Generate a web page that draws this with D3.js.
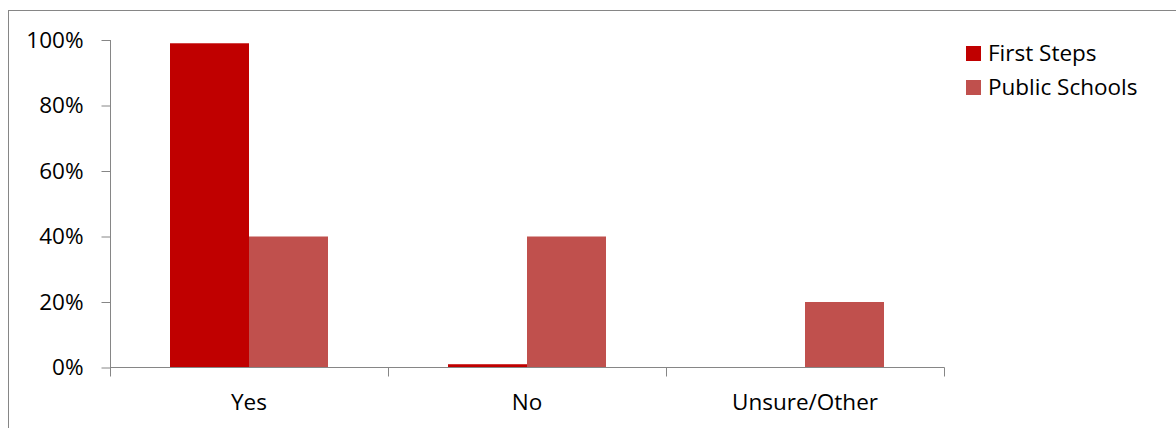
<!DOCTYPE html>
<html><head><meta charset="utf-8">
<script src="https://cdn.jsdelivr.net/npm/d3@7/dist/d3.min.js"></script>
<style>body{margin:0;background:#fff}svg{display:block}</style>
</head><body>
<script>
const categories = ["Yes", "No", "Unsure/Other"];
const seriesNames = ["First Steps", "Public Schools"];
const firstSteps = [0.99, 0.01, 0];
const publicSchools = [0.40, 0.40, 0.20];
const yTicks = [0, 0.2, 0.4, 0.6, 0.8, 1.0];
const colors = ["#C00000", "#C0504D"];

const W = 1176, H = 428;
const svg = d3.select("body").append("svg").attr("width", W).attr("height", H);
const font = "'Open Sans', sans-serif";
const fs = 22.5;

svg.append("rect").attr("x", 8.5).attr("y", 10.5).attr("width", 1200).attr("height", 500)
  .attr("fill", "none").attr("stroke", "#868686").attr("stroke-width", 1);

const x0 = d3.scaleBand().domain(categories).range([110, 944]).paddingInner(0).paddingOuter(0);
const y = d3.scaleLinear().domain([0, 1]).range([367.5, 40]);
const x1 = d3.scaleBand().domain(seriesNames).range([0, x0.bandwidth()]).paddingInner(0).paddingOuter(60 / 79);

const data = categories.map((c, i) => ({cat: c, vals: [firstSteps[i], publicSchools[i]]}));

const g = svg.append("g");
data.forEach(d => {
  d.vals.forEach((v, j) => {
    const x = x0(d.cat) + x1(seriesNames[j]);
    g.append("rect").attr("x", x).attr("y", y(v)).attr("width", x1.bandwidth())
      .attr("height", y(0) - y(v)).attr("fill", colors[j]);
  });
});

// y axis
const yAxis = d3.axisLeft(y).tickValues(yTicks).tickFormat(d3.format(".0%")).tickSize(9).tickPadding(18);
const ya = svg.append("g").attr("transform", "translate(110.5,0)").call(yAxis);
ya.selectAll("path, line").attr("stroke", "#868686");
ya.select(".domain").attr("d", `M0,${y(1)}V${y(0)}`);
ya.selectAll("text").attr("font-family", font).attr("font-size", fs).attr("fill", "#000").attr("dy", "0.33em");

// x axis
const xa = svg.append("g").attr("transform", `translate(0,${y(0)})`);
xa.append("line").attr("x1", 110).attr("x2", 944.5).attr("stroke", "#868686");
const edges = categories.map(c => x0(c)).concat([x0.range()[1]]);
xa.selectAll(".tk").data(edges).enter().append("line")
  .attr("x1", d => d + 0.5).attr("x2", d => d + 0.5).attr("y1", 0).attr("y2", 9).attr("stroke", "#868686");
xa.selectAll(".lbl").data(categories).enter().append("text")
  .attr("x", d => x0(d) + x0.bandwidth() / 2).attr("y", 42)
  .attr("text-anchor", "middle").attr("font-family", font).attr("font-size", fs).attr("fill", "#000")
  .text(d => d);

// legend
const lg = svg.append("g");
seriesNames.forEach((s, i) => {
  lg.append("rect").attr("x", 966).attr("y", 46 + i * 34).attr("width", 15).attr("height", 15).attr("fill", colors[i]);
  lg.append("text").attr("x", 988).attr("y", 61 + i * 34).attr("font-family", font).attr("font-size", fs).attr("fill", "#000").text(s);
});
</script>
</body></html>
